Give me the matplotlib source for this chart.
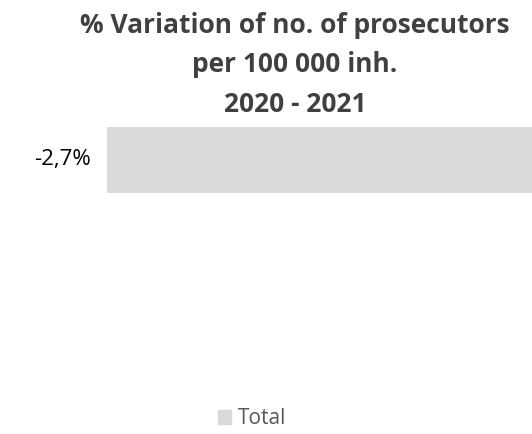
import matplotlib
matplotlib.use("Agg")
import matplotlib.pyplot as plt
from matplotlib.patches import Patch

# data
categories = ["Total"]
values = [-2.7]
value_labels = ["-2,7%"]
title = "% Variation of no. of prosecutors\nper 100 000 inh.\n2020 - 2021"

plt.rcParams['font.family'] = ['Open Sans', 'DejaVu Sans']

fig = plt.figure(figsize=(5.32, 4.34), dpi=100)
fig.patch.set_facecolor("white")

# axes covers the bar only (bar runs off the right edge, like the original)
ax = fig.add_axes([107 / 532, 1 - 193 / 434, 1 - 107 / 532, 66 / 434])
ax.barh([0], values, height=1.0, color="#d9d9d9")
ax.set_xlim(values[0], 0)
ax.set_ylim(-0.5, 0.5)
ax.axis("off")

ax.text(-0.038, 0.5, value_labels[0], transform=ax.transAxes, ha="right", va="center",
        fontsize=16, color="#000000")

fig.text(295 / 532, 1 - 65 / 434, title, ha="center", va="center", fontsize=19,
         fontweight="bold", color="#404040", linespacing=1.6)

fig.legend(handles=[Patch(color="#d9d9d9", label=categories[0])], loc="center",
           bbox_to_anchor=(252 / 532, 1 - 419 / 434), frameon=False, fontsize=15,
           labelcolor="#595959", handlelength=0.65, handleheight=0.65, handletextpad=0.3)

fig.savefig("out.png", dpi=100)
